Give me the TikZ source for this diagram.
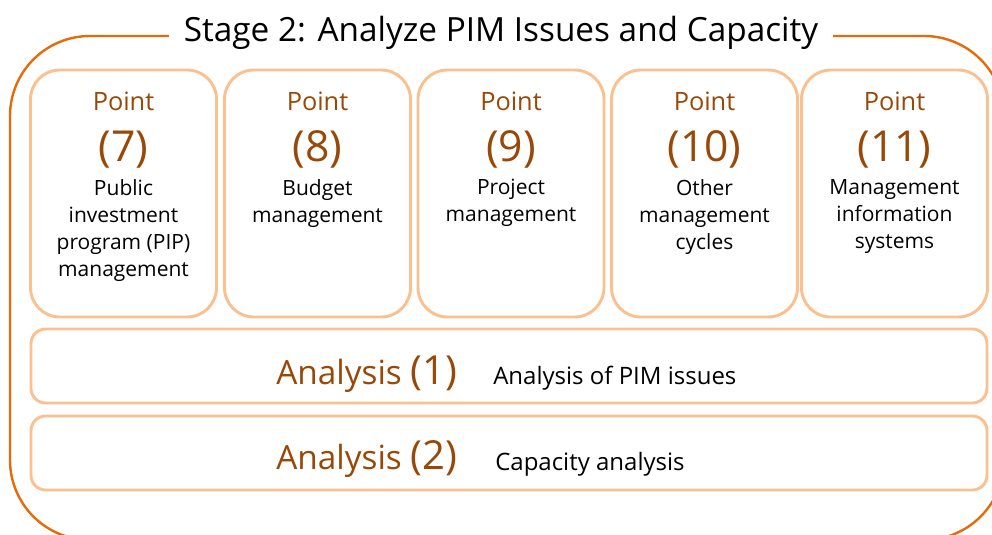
\documentclass[tikz,border=0pt]{standalone}
\usepackage{fontspec}
\setmainfont{Open Sans}
\definecolor{frameorange}{RGB}{228,108,10}
\definecolor{boxorange}{RGB}{250,192,144}
\definecolor{pointbrown}{RGB}{152,72,7}
\tikzset{
  pointbox/.style={draw=boxorange, line width=2.2pt, rounded corners=22pt, minimum width=139.5pt, minimum height=185.25pt},
  anabox/.style={draw=boxorange, line width=2.2pt, rounded corners=11pt, minimum width=717pt, minimum height=55.5pt},
  pointlabel/.style={inner sep=0pt, text=pointbrown, font=\fontsize{19}{23}\selectfont},
  pointnum/.style={inner sep=0pt, text=pointbrown, font=\fontsize{32}{38}\selectfont},
  pointdesc/.style={inner sep=0pt, align=center, font=\fontsize{15.75}{20.25}\selectfont},
  anatitle/.style={inner sep=0pt, text=pointbrown, font=\fontsize{25}{30}\selectfont},
  anadesc/.style={inner sep=0pt, font=\fontsize{18}{22}\selectfont}
}
\newcommand{\ananum}[1]{{\fontsize{30}{36}\selectfont(#1)}}
\begin{document}
\begin{tikzpicture}[x=0.75pt,y=0.75pt,yscale=-1,xscale=1]
        %set diagram to 992 x 535
        \useasboundingbox (0,0) rectangle (992,535);
        \clip (0,0) rectangle (992,535);
        
        %Rounded Rect [id:frame] 
        \draw [color=frameorange, line width=1.8pt, rounded corners=60pt] (10,36) rectangle (1004,540);
        %Text Node [id:title] 
        \node [fill=white, inner xsep=11pt, inner ysep=2pt, anchor=base, font=\fontsize{25}{30}\selectfont] (title) at (501,42) {Stage 2: Analyze PIM Issues and Capacity};
        
        %Rounded Rect [id:points] 
        \foreach \n/\cx/\desc in {7/123.5/{Public\\investment\\program (PIP)\\management}, 8/317.5/{Budget\\management}, 9/511/{Project\\management}, 10/704.5/{Other\\management\\cycles}, 11/894.5/{Management\\information\\systems}}
        {
        \node [pointbox] (pt\n) at (\cx,193.5) {};
        \node [pointlabel, anchor=base] (pt\n-word) at (\cx,110) {Point};
        \node [pointnum, anchor=base] (pt\n-num) at (\cx,161) {(\n)};
        \node [pointdesc, anchor=north] (pt\n-desc) at (\cx,179) {\desc};
        }
        
        %Rounded Rect [id:ana1] 
        \node [anabox] (ana1) at (509,366) {};
        \node [anatitle, anchor=base west] (ana1-title) at (276,384) {Analysis \ananum{1}};
        \node [anadesc, anchor=base west] (ana1-desc) at (493,384) {Analysis of PIM issues};
        %Rounded Rect [id:ana2] 
        \node [anabox] (ana2) at (509,453) {};
        \node [anatitle, anchor=base west] (ana2-title) at (276,469) {Analysis \ananum{2}};
        \node [anadesc, anchor=base west] (ana2-desc) at (495,470) {Capacity analysis};
        
\end{tikzpicture}
\end{document}
